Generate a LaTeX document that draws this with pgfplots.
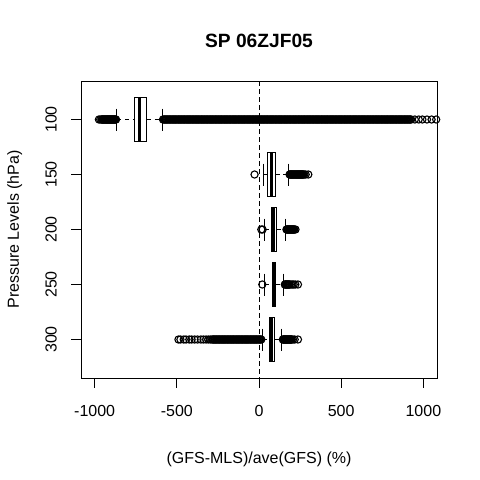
\documentclass[border=0pt]{standalone}
\usepackage{pgfplots}
\pgfplotsset{compat=1.18}
\usepgfplotslibrary{statistics}
\usepackage{fontspec}
\setmainfont{Liberation Sans}
\pgfplotsset{
  boxplot/draw/lower whisker/.code={%
    \draw[dash pattern=on 4.5bp off 3.5bp, line width=1bp]
      (boxplot box cs:\pgfplotsboxplotvalue{lower whisker},0.5) --
      (boxplot box cs:\pgfplotsboxplotvalue{lower quartile},0.5);
    \draw[line width=1bp]
      (boxplot whisker cs:\pgfplotsboxplotvalue{lower whisker},0) --
      (boxplot whisker cs:\pgfplotsboxplotvalue{lower whisker},1);
  },
  boxplot/draw/upper whisker/.code={%
    \draw[dash pattern=on 4.5bp off 3.5bp, line width=1bp]
      (boxplot box cs:\pgfplotsboxplotvalue{upper quartile},0.5) --
      (boxplot box cs:\pgfplotsboxplotvalue{upper whisker},0.5);
    \draw[line width=1bp]
      (boxplot whisker cs:\pgfplotsboxplotvalue{upper whisker},0) --
      (boxplot whisker cs:\pgfplotsboxplotvalue{upper whisker},1);
  },
  boxplot/every box/.style={draw=black, line width=1bp},
  boxplot/every median/.style={line width=3bp},
  myout/.style={black, mark=o, mark size=3.6bp, mark options={line width=1.1bp, black}},
}
\begin{document}
\begin{tikzpicture}
\path[use as bounding box] (0,0) rectangle (480bp,480bp);
\begin{axis}[
  at={(81bp,102bp)}, anchor=south west,
  scale only axis, width=356bp, height=297bp,
  xmin=-1083, xmax=1083, ymin=65, ymax=335, y dir=reverse,
  xtick={-1000,-500,0,500,1000}, xticklabels={-1000,-500,0,500,1000},
  ytick={100,150,200,250,300}, yticklabels={100,150,200,250,300},
  tick pos=left, tick align=outside, major tick length=9.6bp,
  tick style={black, line width=1bp},
  axis line style={line width=1bp},
  every tick label/.append style={font=\fontsize{16bp}{19.2bp}\selectfont},
  xticklabel style={anchor=center, yshift=-23.4bp},
  yticklabel style={anchor=center, xshift=-20.4bp, rotate=90},
  title={SP 06ZJF05},
  title style={at={(axis description cs:0.5,1.1145)}, anchor=center, font=\fontsize{19.2bp}{23bp}\selectfont\bfseries},
  xlabel={(GFS-MLS)/ave(GFS) (\%)},
  xlabel style={at={(axis description cs:0.5,-0.2727)}, anchor=center, font=\fontsize{16bp}{19.2bp}\selectfont},
  ylabel={Pressure Levels (hPa)},
  ylabel style={at={(axis description cs:-0.1863,0.5)}, anchor=center, font=\fontsize{16bp}{19.2bp}\selectfont},
]
% 100 hPa
\addplot[myout, boxplot prepared={draw position=100, box extend=40, whisker extend=20,
  lower whisker=-865, lower quartile=-758, median=-727, upper quartile=-683, upper whisker=-590}]
  table[row sep=\\, y index=0] {v\\
  -974\\ -966\\ -958\\ -952\\ -946\\ -940\\ -934\\ -928\\ -922\\ -916\\ -910\\ -904\\ -898\\ -892\\ -886\\ -880\\ -874\\ -870\\
  -955\\ -949\\ -943\\ -937\\ -931\\ -925\\ -919\\ -913\\ -907\\ -901\\ -895\\ -889\\ -883\\ -877\\
  -584\\ -574\\ -564\\ -554\\ -544\\ -534\\ -524\\ -514\\ -504\\ -494\\ -484\\ -474\\ -464\\ -454\\ -444\\ -434\\ -424\\ -414\\ -404\\ -394\\
  -384\\ -374\\ -364\\ -354\\ -344\\ -334\\ -324\\ -314\\ -304\\ -294\\ -284\\ -274\\ -264\\ -254\\ -244\\ -234\\ -224\\ -214\\ -204\\ -194\\
  -184\\ -174\\ -164\\ -154\\ -144\\ -134\\ -124\\ -114\\ -104\\ -94\\ -84\\ -74\\ -64\\ -54\\ -44\\ -34\\ -24\\ -14\\ -4\\ 6\\
  16\\ 26\\ 36\\ 46\\ 56\\ 66\\ 76\\ 86\\ 96\\ 106\\ 116\\ 126\\ 136\\ 146\\ 156\\ 166\\ 176\\ 186\\ 196\\ 206\\
  216\\ 226\\ 236\\ 246\\ 256\\ 266\\ 276\\ 286\\ 296\\ 306\\ 316\\ 326\\ 336\\ 346\\ 356\\ 366\\ 376\\ 386\\ 396\\ 406\\
  416\\ 426\\ 436\\ 446\\ 456\\ 466\\ 476\\ 486\\ 496\\ 506\\ 516\\ 526\\ 536\\ 546\\ 556\\ 566\\ 576\\ 586\\ 596\\ 606\\
  616\\ 626\\ 636\\ 646\\ 656\\ 666\\ 676\\ 686\\ 696\\ 706\\ 716\\ 726\\ 736\\ 746\\ 756\\ 766\\ 776\\ 786\\ 796\\ 806\\
  816\\ 826\\ 836\\ 846\\ 856\\ 866\\ 876\\ 886\\ 896\\ 906\\ 916\\ 926\\ 948\\ 972\\ 994\\ 1022\\ 1050\\ 1078\\
  -579\\ -569\\ -559\\ -549\\ -539\\ -529\\ -519\\ -509\\ -499\\ -489\\ -479\\ -469\\ -459\\ -449\\ -439\\ -429\\ -419\\ -409\\ -399\\ -389\\
  -379\\ -369\\ -359\\ -349\\ -339\\ -329\\ -319\\ -309\\ -299\\ -289\\ -279\\ -269\\ -259\\ -249\\ -239\\ -229\\ -219\\ -209\\ -199\\ -189\\
  -179\\ -169\\ -159\\ -149\\ -139\\ -129\\ -119\\ -109\\ -99\\ -89\\ -79\\ -69\\ -59\\ -49\\ -39\\ -29\\ -19\\ -9\\ 1\\ 11\\
  21\\ 31\\ 41\\ 51\\ 61\\ 71\\ 81\\ 91\\ 101\\ 111\\ 121\\ 131\\ 141\\ 151\\ 161\\ 171\\ 181\\ 191\\ 201\\ 211\\
  221\\ 231\\ 241\\ 251\\ 261\\ 271\\ 281\\ 291\\ 301\\ 311\\ 321\\ 331\\ 341\\ 351\\ 361\\ 371\\ 381\\ 391\\ 401\\ 411\\
  421\\ 431\\ 441\\ 451\\ 461\\ 471\\ 481\\ 491\\ 501\\ 511\\ 521\\ 531\\ 541\\ 551\\ 561\\ 571\\ 581\\ 591\\ 601\\ 611\\
  621\\ 631\\ 641\\ 651\\ 661\\ 671\\ 681\\ 691\\ 701\\ 711\\ 721\\ 731\\ 741\\ 751\\ 761\\ 771\\ 781\\ 791\\ 801\\ 811\\
  821\\ 831\\ 841\\ 851\\ 861\\ 871\\ 881\\ 891\\ 901\\ 911\\ 921\\
  };
% 150 hPa
\addplot[myout, boxplot prepared={draw position=150, box extend=40, whisker extend=20,
  lower whisker=27, lower quartile=54, median=76, upper quartile=100, upper whisker=180}]
  table[row sep=\\, y index=0] {v\\
  -27\\ 186\\ 189\\ 192\\ 195\\ 198\\ 201\\ 204\\ 207\\ 210\\ 213\\ 216\\ 219\\ 222\\ 225\\ 228\\ 231\\ 234\\ 237\\ 240\\
  243\\ 246\\ 249\\ 252\\ 255\\ 258\\ 261\\ 264\\ 267\\ 270\\ 276\\ 284\\ 300\\
  };
% 200 hPa
\addplot[myout, boxplot prepared={draw position=200, box extend=40, whisker extend=20,
  lower whisker=33, lower quartile=78, median=91, upper quartile=105, upper whisker=161}]
  table[row sep=\\, y index=0] {v\\
  14\\ 22\\ 167\\ 170\\ 173\\ 176\\ 179\\ 182\\ 185\\ 188\\ 191\\ 194\\ 197\\ 200\\ 203\\ 206\\ 209\\ 212\\ 215\\ 222\\
  };
% 250 hPa
\addplot[myout, boxplot prepared={draw position=250, box extend=40, whisker extend=20,
  lower whisker=32, lower quartile=80, median=88, upper quartile=100, upper whisker=151}]
  table[row sep=\\, y index=0] {v\\
  20\\ 157\\ 160\\ 163\\ 166\\ 169\\ 172\\ 175\\ 178\\ 181\\ 184\\ 187\\ 195\\ 203\\ 211\\ 221\\ 237\\
  };
% 300 hPa
\addplot[myout, boxplot prepared={draw position=300, box extend=40, whisker extend=20,
  lower whisker=23, lower quartile=64, median=79, upper quartile=94, upper whisker=139}]
  table[row sep=\\, y index=0] {v\\
  -490\\ -478\\ -458\\ -444\\ -424\\ -410\\ -392\\ -374\\ -354\\ -338\\ -322\\ -308\\ -296\\
  -286\\ -276\\ -266\\ -256\\ -246\\ -236\\ -226\\ -216\\ -206\\ -196\\ -186\\ -176\\ -166\\ -156\\ -146\\ -136\\
  -126\\ -116\\ -106\\ -96\\ -86\\ -76\\ -66\\ -56\\ -46\\ -36\\ -26\\ -16\\ -6\\ 4\\ 14\\
  -281\\ -271\\ -261\\ -251\\ -241\\ -231\\ -221\\ -211\\ -201\\ -191\\ -181\\ -171\\ -161\\ -151\\ -141\\ -131\\
  -121\\ -111\\ -101\\ -91\\ -81\\ -71\\ -61\\ -51\\ -41\\ -31\\ -21\\ -11\\ -1\\ 9\\
  145\\ 148\\ 151\\ 154\\ 157\\ 160\\ 163\\ 166\\ 169\\ 172\\ 175\\ 178\\ 181\\ 184\\ 187\\ 190\\ 193\\ 196\\ 199\\ 207\\ 217\\ 237\\
  };
% zero line
\addplot[black, line width=1bp, dash pattern=on 4.5bp off 3.5bp] coordinates {(0,65) (0,335)};
\end{axis}
\end{tikzpicture}
\end{document}
